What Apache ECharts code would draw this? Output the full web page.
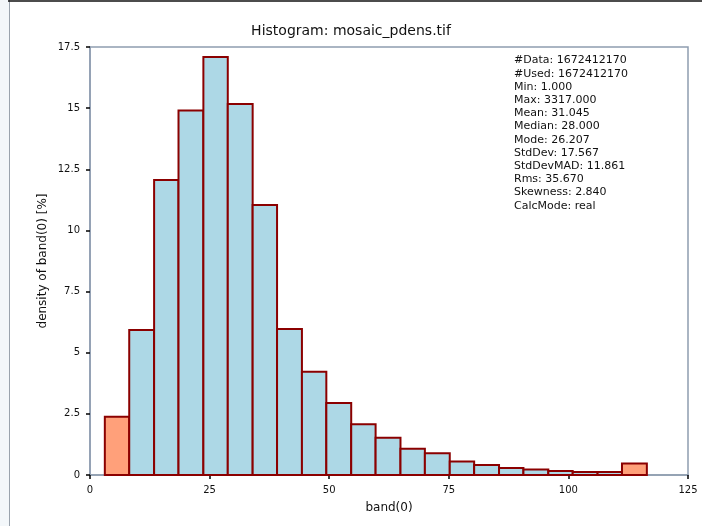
<!DOCTYPE html>
<html>
<head>
<meta charset="utf-8">
<script src="https://cdn.jsdelivr.net/npm/echarts@6/dist/echarts.min.js"></script>
<style>
html,body{margin:0;padding:0;background:#fff;}
#chart{width:702px;height:526px;}
</style>
</head>
<body>
<div id="chart"></div>
<script>
// Bin edges (band value)
var binEdges = [3.1, 8.2, 13.4, 18.5, 23.7, 28.8, 34.0, 39.1, 44.3, 49.4, 54.6, 59.7, 64.9, 70.0, 75.2, 80.3, 85.5, 90.6, 95.8, 100.9, 106.1, 111.2, 116.4];
// Density [%] per bin
var densities = [2.38, 5.93, 12.06, 14.9, 17.09, 15.17, 11.04, 5.97, 4.22, 2.94, 2.08, 1.52, 1.07, 0.89, 0.55, 0.41, 0.29, 0.22, 0.16, 0.12, 0.12, 0.47];
// Outlier (under/overflow) bins drawn in salmon
var outlierBins = [0, 21];
var xTicks = [0, 25, 50, 75, 100, 125];
var yTicks = [0, 2.5, 5, 7.5, 10, 12.5, 15, 17.5];
var statsLines = [
  '#Data: 1672412170',
  '#Used: 1672412170',
  'Min: 1.000',
  'Max: 3317.000',
  'Mean: 31.045',
  'Median: 28.000',
  'Mode: 26.207',
  'StdDev: 17.567',
  'StdDevMAD: 11.861',
  'Rms: 35.670',
  'Skewness: 2.840',
  'CalcMode: real'
];

var data = densities.map(function (v, i) {
  return [binEdges[i], binEdges[i + 1], v, outlierBins.indexOf(i) >= 0 ? 1 : 0];
});

var font = 'DejaVu Sans';
var chart = echarts.init(document.getElementById('chart'));
chart.setOption({
  animation: false,
  backgroundColor: '#ffffff',
  textStyle: { fontFamily: font },
  title: {
    text: 'Histogram: mosaic_pdens.tif',
    left: 'center',
    top: 19,
    textStyle: { fontFamily: font, fontSize: 14, fontWeight: 'normal', color: '#111' }
  },
  grid: {
    left: 90, right: 14, top: 47, bottom: 51,
    show: true, borderColor: '#8e9db0', borderWidth: 1.5, backgroundColor: 'transparent'
  },
  xAxis: {
    type: 'value',
    min: xTicks[0], max: xTicks[xTicks.length - 1], interval: 25,
    name: 'band(0)', nameLocation: 'middle', nameGap: 27,
    nameTextStyle: { fontFamily: font, fontSize: 12, color: '#111' },
    axisLine: { show: true, lineStyle: { color: '#8e9db0', width: 1.5 } },
    axisTick: { show: true, length: 4, lineStyle: { color: '#000', width: 1.5 } },
    axisLabel: { fontFamily: font, fontSize: 10, color: '#111', margin: 10 },
    splitLine: { show: false }
  },
  yAxis: {
    type: 'value',
    min: yTicks[0], max: yTicks[yTicks.length - 1], interval: 2.5,
    name: 'density of band(0) [%]', nameLocation: 'middle', nameGap: 41, nameRotate: 90,
    nameMoveOverlap: false,
    nameTextStyle: { fontFamily: font, fontSize: 12, color: '#111' },
    axisLine: { show: true, lineStyle: { color: '#8e9db0', width: 1.5 } },
    axisTick: { show: true, length: 4, lineStyle: { color: '#000', width: 1.5 } },
    axisLabel: { fontFamily: font, fontSize: 10, color: '#111', margin: 10 },
    splitLine: { show: false }
  },
  series: [{
    type: 'custom',
    data: data,
    encode: { x: [0, 1], y: 2 },
    renderItem: function (params, api) {
      var p0 = api.coord([api.value(0), api.value(2)]);
      var p1 = api.coord([api.value(1), 0]);
      var orange = api.value(3) === 1;
      return {
        type: 'rect',
        shape: { x: p0[0], y: p0[1], width: p1[0] - p0[0], height: p1[1] - p0[1] },
        style: { fill: orange ? '#ffa07a' : '#add8e6', stroke: '#8b0000', lineWidth: 2 }
      };
    }
  }],
  graphic: [
    { type: 'rect', left: 0, top: 0, shape: { width: 9, height: 526 }, style: { fill: '#f3f7fa' }, silent: true },
    { type: 'line', shape: { x1: 9.5, y1: 0, x2: 9.5, y2: 526 }, style: { stroke: '#9aa3ad', lineWidth: 1 }, silent: true },
    { type: 'line', shape: { x1: 8, y1: 1, x2: 702, y2: 1 }, style: { stroke: '#111', lineWidth: 1.5 }, silent: true },
    {
      type: 'text', left: 514, top: 54,
      style: { text: statsLines.join('\n'), font: '11px "DejaVu Sans"', lineHeight: 13.2, fill: '#111' }
    }
  ]
});
</script>
</body>
</html>
